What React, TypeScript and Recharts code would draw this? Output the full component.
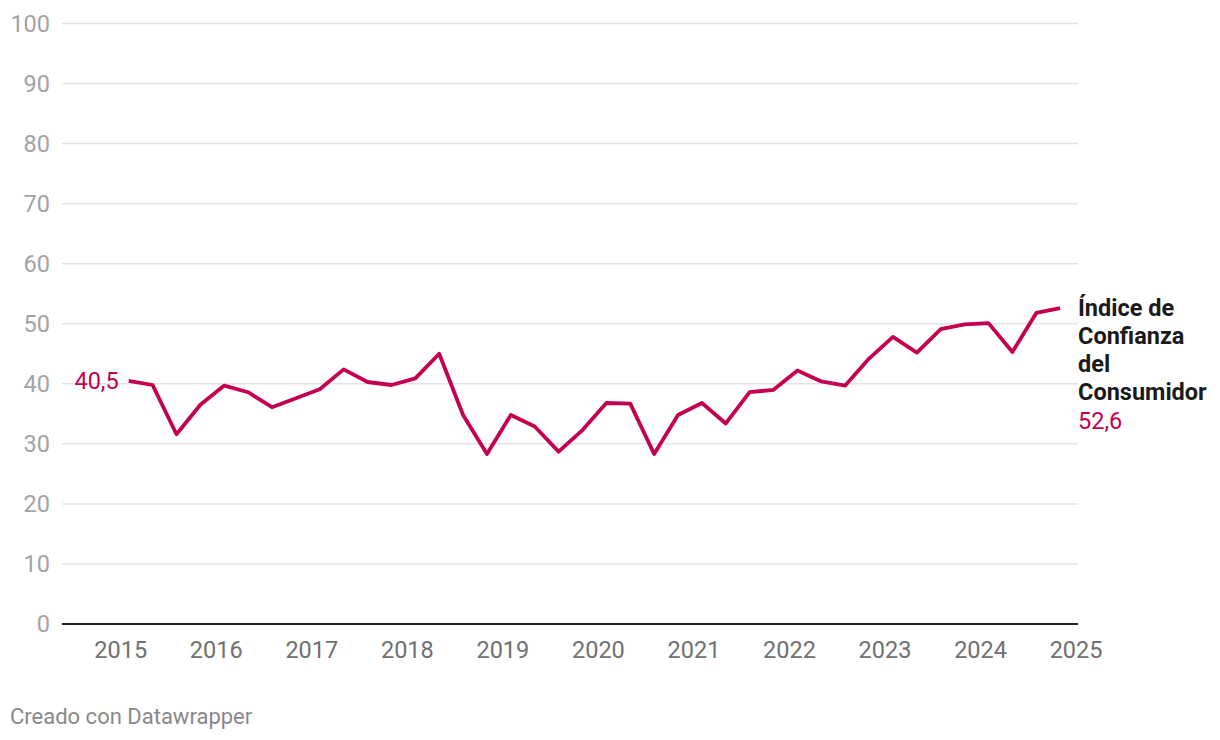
import { CartesianGrid, Line, LineChart, ReferenceLine, XAxis, YAxis } from "recharts";

// fechas de cada medición (trimestral)
const fechas = [
  "2015-02", "2015-05", "2015-08", "2015-11",
  "2016-02", "2016-05", "2016-08", "2016-11",
  "2017-02", "2017-05", "2017-08", "2017-11",
  "2018-02", "2018-05", "2018-08", "2018-11",
  "2019-02", "2019-05", "2019-08", "2019-11",
  "2020-02", "2020-05", "2020-08", "2020-11",
  "2021-02", "2021-05", "2021-08", "2021-11",
  "2022-02", "2022-05", "2022-08", "2022-11",
  "2023-02", "2023-05", "2023-08", "2023-11",
  "2024-02", "2024-05", "2024-08", "2024-11",
];

const indice = [
  40.5, 39.8, 31.6, 36.5, 39.7, 38.6, 36.1, 37.6,
  39.1, 42.4, 40.3, 39.8, 40.9, 45.0, 34.8, 28.3,
  34.8, 32.9, 28.7, 32.3, 36.8, 36.7, 28.3, 34.8,
  36.8, 33.4, 38.6, 39.0, 42.2, 40.4, 39.7, 44.2,
  47.8, 45.2, 49.1, 49.9, 50.1, 45.3, 51.8, 52.6,
];

const anios = [2015, 2016, 2017, 2018, 2019, 2020, 2021, 2022, 2023, 2024, 2025];
const ticksY = [0, 10, 20, 30, 40, 50, 60, 70, 80, 90, 100];

const nombreSerie = ["Índice de", "Confianza", "del", "Consumidor"];

const ROJO = "#c40050";
const FONT = "Roboto, sans-serif";
const TAM = 23.5;

const aDecimal = (f: string) => {
  const [a, m] = f.split("-").map(Number);
  return a + (m - 1) / 12;
};

const data = fechas.map((f, i) => ({ t: aDecimal(f), valor: indice[i] }));

const fmt = (v: number) => v.toFixed(1).replace(".", ",");

function EtiquetaY({ y, payload }: any) {
  return (
    <text x={50} y={y} dy="0.35em" textAnchor="end" fill="#a3a3a3" fontSize={TAM} fontFamily={FONT}>
      {payload.value}
    </text>
  );
}

function EtiquetaX({ x, payload }: any) {
  return (
    <text x={x} y={641} dy="0.71em" textAnchor="middle" fill="#707070" fontSize={TAM} fontFamily={FONT}>
      {payload.value}
    </text>
  );
}

function EtiquetaLinea({ x, y, index }: any) {
  if (index === 0) {
    return (
      <text x={x - 10} y={y} dy="0.35em" textAnchor="end" fill={ROJO} fontSize={TAM} fontFamily={FONT}>
        {fmt(indice[0])}
      </text>
    );
  }
  if (index === indice.length - 1) {
    return (
      <g fontFamily={FONT} fontSize={TAM}>
        {nombreSerie.map((l, i) => (
          <text key={l} x={1078} y={y + i * 28} dy="0.35em" fill="#1a1a1a" fontWeight={700}>
            {l}
          </text>
        ))}
        <text x={1078} y={y + 4 * 28 + 1} dy="0.35em" fill={ROJO}>
          {fmt(indice[indice.length - 1])}
        </text>
      </g>
    );
  }
  return null;
}

export default function App() {
  return (
    <div style={{ position: "absolute", left: 0, top: 0, width: 1220, height: 740, background: "#fff" }}>
      <LineChart
        width={1220}
        height={690}
        data={data}
        margin={{ top: 23.5, right: 142, bottom: 0, left: 0 }}
      >
        <CartesianGrid vertical={false} stroke="#e3e3e3" strokeWidth={1.5} />
        <XAxis
          dataKey="t"
          type="number"
          domain={[2014.385, 2025.02]}
          ticks={anios}
          axisLine={false}
          tickLine={false}
          tick={<EtiquetaX />}
          height={66}
          interval={0}
        />
        <YAxis
          domain={[0, 100]}
          ticks={ticksY}
          axisLine={false}
          tickLine={false}
          tick={<EtiquetaY />}
          width={62}
          interval={0}
        />
        <ReferenceLine y={0} stroke="#222" strokeWidth={2} />
        <Line
          type="linear"
          dataKey="valor"
          stroke={ROJO}
          strokeWidth={3.8}
          dot={false}
          strokeLinejoin="round"
          isAnimationActive={false}
          label={<EtiquetaLinea />}
        />
      </LineChart>
      <div
        style={{
          position: "absolute",
          left: 10,
          top: 704,
          fontFamily: FONT,
          fontSize: 22,
          color: "#888",
        }}
      >
        Creado con Datawrapper
      </div>
    </div>
  );
}
